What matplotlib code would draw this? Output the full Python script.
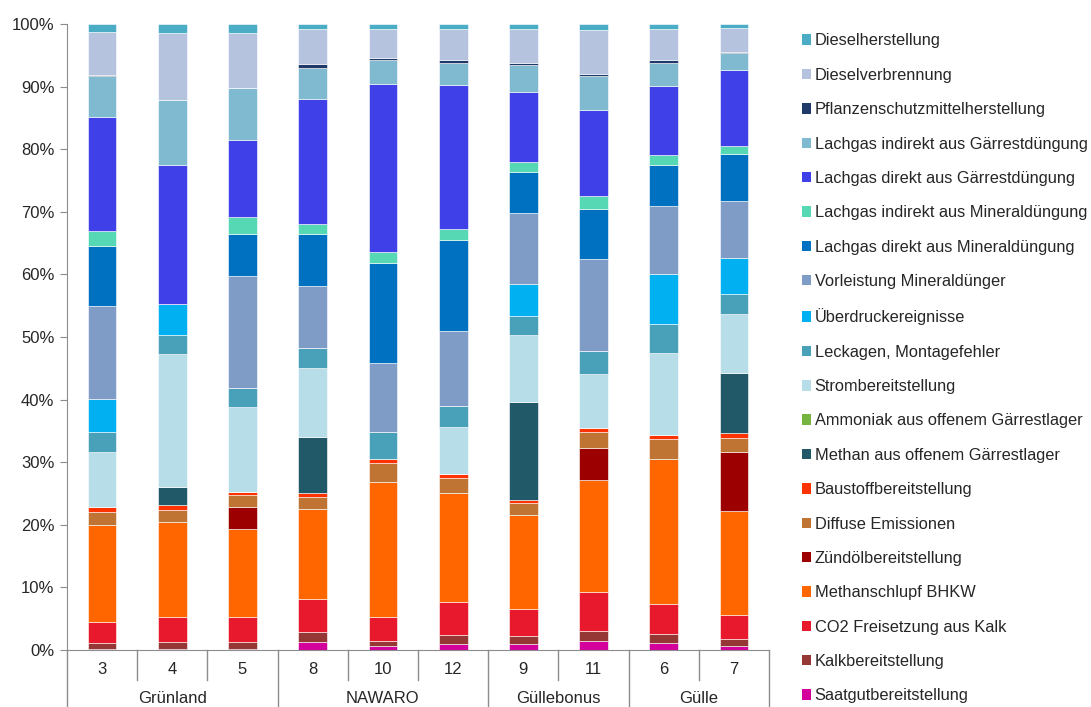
import numpy as np
import matplotlib
matplotlib.use('Agg')
import matplotlib.pyplot as plt
from matplotlib.patches import Patch
import matplotlib.transforms as mtransforms

plt.rcParams['font.family'] = ['Liberation Sans', 'DejaVu Sans']

anlagen = ['3', '4', '5', '8', '10', '12', '9', '11', '6', '7']
gruppen = ['Grünland', 'NAWARO', 'Güllebonus', 'Gülle']
gruppen_groesse = [3, 3, 2, 2]

# Anteile in % je Anlage (Stapel von unten nach oben)
saatgut        = [0.2, 0.1, 0.2, 1.3, 0.6, 1.0, 1.0, 1.5, 1.2, 0.7]
kalk           = [0.9, 1.2, 1.1, 1.6, 0.8, 1.4, 1.2, 1.6, 1.4, 1.0]
co2_kalk       = [3.3, 4.0, 4.0, 5.2, 3.9, 5.2, 4.3, 6.1, 4.8, 3.9]
methanschlupf  = [15.5, 15.1, 14.1, 14.5, 21.6, 17.5, 15.0, 17.9, 23.1, 16.6]
zuendoel       = [0, 0, 3.4, 0, 0, 0, 0, 5.2, 0, 9.5]
diffuse        = [2.2, 2.0, 2.0, 1.8, 2.9, 2.4, 2.0, 2.5, 3.2, 2.2]
baustoff       = [0.7, 0.7, 0.5, 0.7, 0.7, 0.6, 0.5, 0.7, 0.7, 0.7]
methan_lager   = [0, 2.9, 0, 8.9, 0, 0, 15.7, 0, 0, 9.7]
ammoniak       = [0, 0, 0, 0, 0, 0, 0, 0, 0, 0]
strom          = [8.9, 21.3, 13.6, 11.1, 0, 7.6, 10.6, 8.6, 13.0, 9.3]
leckagen       = [3.2, 3.0, 2.9, 3.1, 4.3, 3.3, 3.1, 3.6, 4.7, 3.3]
ueberdruck     = [5.2, 5.0, 0, 0, 0, 0, 5.0, 0, 7.9, 5.7]
vorleistung    = [14.9, 0, 18.0, 9.9, 11.1, 12.0, 11.4, 14.7, 10.9, 9.2]
lg_dir_mineral = [9.6, 0, 6.6, 8.4, 16.0, 14.5, 6.5, 8.0, 6.6, 7.4]
lg_ind_mineral = [2.3, 0, 2.7, 1.6, 1.7, 1.8, 1.7, 2.1, 1.6, 1.3]
lg_dir_gaer    = [18.2, 22.2, 12.3, 20.0, 26.8, 22.9, 11.2, 13.8, 11.0, 12.1]
lg_ind_gaer    = [6.6, 10.4, 8.4, 4.9, 3.9, 3.6, 4.3, 5.4, 3.7, 2.7]
pflanzenschutz = [0.2, 0, 0, 0.6, 0.3, 0.4, 0.3, 0.3, 0.4, 0.2]
diesel_verbr   = [6.9, 10.6, 8.8, 5.6, 4.6, 5.0, 5.4, 7.0, 5.0, 3.9]
diesel_herst   = [1.2, 1.5, 1.4, 0.8, 0.8, 0.8, 0.8, 1.0, 0.8, 0.6]

komponenten = [
    ('Saatgutbereitstellung', saatgut, '#d4009c'),
    ('Kalkbereitstellung', kalk, '#953735'),
    ('CO2 Freisetzung aus Kalk', co2_kalk, '#e8192c'),
    ('Methanschlupf BHKW', methanschlupf, '#ff6600'),
    ('Zündölbereitstellung', zuendoel, '#9c0000'),
    ('Diffuse Emissionen', diffuse, '#c07434'),
    ('Baustoffbereitstellung', baustoff, '#ff3300'),
    ('Methan aus offenem Gärrestlager', methan_lager, '#215968'),
    ('Ammoniak aus offenem Gärrestlager', ammoniak, '#77b43f'),
    ('Strombereitstellung', strom, '#b7dde8'),
    ('Leckagen, Montagefehler', leckagen, '#48a1b9'),
    ('Überdruckereignisse', ueberdruck, '#00b0f0'),
    ('Vorleistung Mineraldünger', vorleistung, '#7f9cc7'),
    ('Lachgas direkt aus Mineraldüngung', lg_dir_mineral, '#0070c0'),
    ('Lachgas indirekt aus Mineraldüngung', lg_ind_mineral, '#57d8b4'),
    ('Lachgas direkt aus Gärrestdüngung', lg_dir_gaer, '#4040e8'),
    ('Lachgas indirekt aus Gärrestdüngung', lg_ind_gaer, '#7fbad0'),
    ('Pflanzenschutzmittelherstellung', pflanzenschutz, '#1f3a68'),
    ('Dieselverbrennung', diesel_verbr, '#b5c3de'),
    ('Dieselherstellung', diesel_herst, '#4bacc6'),
]

fig = plt.figure(figsize=(10.91, 7.07), dpi=100)
ax = fig.add_axes([0.0614, 0.0806, 0.6435, 0.8854])

x = np.arange(len(anlagen))
unten = np.zeros(len(anlagen))
for name, werte, farbe in komponenten:
    werte = np.array(werte, dtype=float)
    ax.bar(x, werte, bottom=unten, width=0.41, color=farbe, edgecolor='white', linewidth=0.4)
    unten += werte

ax.set_xlim(-0.5, len(anlagen) - 0.5)
ax.set_ylim(0, 100)
ax.set_yticks(np.arange(0, 101, 10))
ax.set_yticklabels([f'{v}%' for v in range(0, 101, 10)], fontsize=12, color='#262626')
ax.tick_params(axis='y', length=5, color='#8c8c8c', pad=4)
ax.set_xticks([])
for s in ['top', 'right']:
    ax.spines[s].set_visible(False)
ax.spines['left'].set_color('#8c8c8c')
ax.spines['bottom'].set_color('#8c8c8c')

# mehrstufige x-Achse
trans = mtransforms.blended_transform_factory(ax.transData, ax.transAxes)
for i, lab in enumerate(anlagen):
    ax.text(i, -0.031, lab, transform=trans, ha='center', va='center', fontsize=12, color='#262626')
grenzen = np.cumsum([0] + gruppen_groesse)
for i in range(len(anlagen) + 1):
    tief = -0.092 if i in grenzen else -0.048
    ax.plot([i - 0.5, i - 0.5], [0, tief], transform=trans, color='#8c8c8c', lw=1, clip_on=False)
for g, name in enumerate(gruppen):
    mitte = (grenzen[g] + grenzen[g + 1] - 1) / 2
    ax.text(mitte, -0.078, name, transform=trans, ha='center', va='center', fontsize=12, color='#262626')

handles = [Patch(facecolor=f, edgecolor='none', label=n) for n, _, f in komponenten][::-1]
leg = fig.legend(handles=handles, loc='upper left', bbox_to_anchor=(0.7287, 0.962), frameon=False,
                 fontsize=11.8, handlelength=0.6, handleheight=0.6, handletextpad=0.2,
                 labelspacing=1.182, borderaxespad=0)
for t in leg.get_texts():
    t.set_color('#262626')

fig.savefig('out.png', dpi=100)
